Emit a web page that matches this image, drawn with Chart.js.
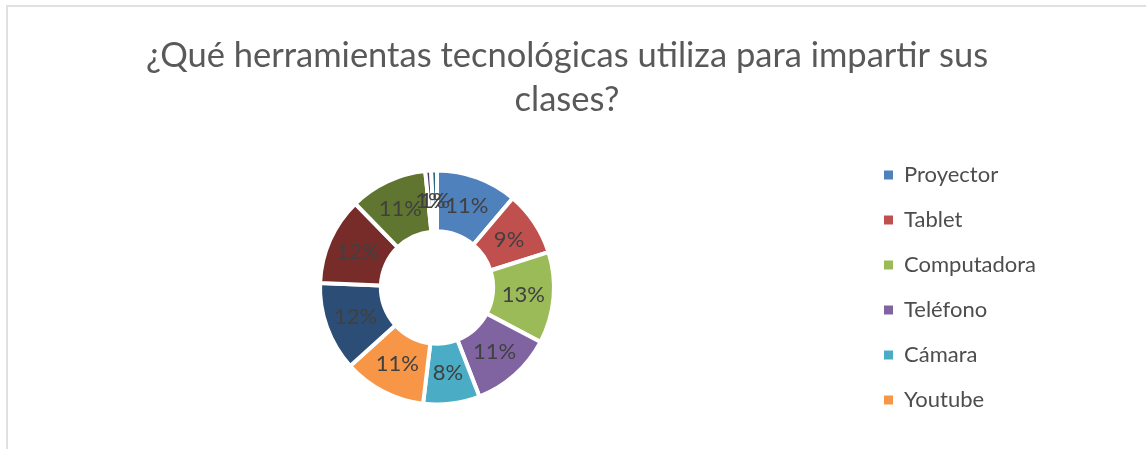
<!DOCTYPE html>
<html>
<head>
<meta charset="utf-8">
<script src="https://cdn.jsdelivr.net/npm/chart.js@4/dist/chart.umd.min.js"></script>
<style>
  body { margin: 0; overflow: hidden; background: #fff; }
  #frame { position: absolute; left: 6px; top: 5px; width: 1300px; height: 600px;
           border-left: 2px solid #e0e0e0; border-top: 2px solid #e0e0e0; }
  #myChart_donut { position: absolute; left: 0; top: 0; }
</style>
</head>
<body>
<div id="frame"></div>
<canvas id="myChart_donut" width="1121" height="453"></canvas>
<script>
const titleLines = ['¿Qué herramientas tecnológicas utiliza para impartir sus', 'clases?'];
const categories = ['Proyector', 'Tablet', 'Computadora', 'Teléfono', 'Cámara', 'Youtube', '7', '8', '9', '10', '11'];
const shares = [11.2, 8.9, 12.6, 11.4, 7.8, 11.4, 12.3, 12.1, 10.7, 0.8, 0.8];
const sliceColors = ['#4F81BD', '#C0504D', '#9BBB59', '#8064A2', '#4BACC6', '#F79646',
                     '#2C4D75', '#772C2A', '#5F7530', '#4D3B62', '#276A7C'];
const shownInLegend = 6; // the legend only fits the first six entries

// widen the legend box so the doughnut and the title sit where they should
const legendWidth = {
  id: 'legendWidth',
  beforeInit(chart) {
    const fitValue = chart.legend.fit;
    chart.legend.fit = function fit() {
      fitValue.bind(chart.legend)();
      this.width = 260;
    };
  }
};

// percentage labels in the middle of each slice
const sliceLabels = {
  id: 'sliceLabels',
  afterDatasetsDraw(chart) {
    const ctx = chart.ctx;
    const meta = chart.getDatasetMeta(0);
    const total = shares.reduce((a, b) => a + b, 0);
    ctx.save();
    ctx.font = '22px Lato';
    ctx.fillStyle = '#404040';
    ctx.textAlign = 'center';
    ctx.textBaseline = 'middle';
    meta.data.forEach((arc, i) => {
      const p = arc.tooltipPosition();
      ctx.fillText(Math.round(shares[i] / total * 100) + '%', p.x, p.y);
    });
    ctx.restore();
  }
};

const defaultLabels = Chart.overrides.doughnut.plugins.legend.labels.generateLabels;

const ctx = document.getElementById('myChart_donut').getContext('2d');
new Chart(ctx, {
  type: 'doughnut',
  data: {
    labels: categories,
    datasets: [{
      data: shares,
      backgroundColor: sliceColors,
      borderColor: '#ffffff',
      borderWidth: 4,
      radius: 117,
      cutout: '48%',
    }],
  },
  options: {
    responsive: false,
    animation: false,
    layout: { padding: { left: 13, right: 0, top: 0, bottom: 0 } },
    plugins: {
      title: {
        display: true,
        text: titleLines,
        color: '#595959',
        font: { family: 'Lato', size: 34.5, weight: 'normal', lineHeight: 44 / 34.5 },
        padding: { top: 34, bottom: 0 },
      },
      legend: {
        position: 'right',
        fullSize: false,
        labels: {
          boxWidth: 9,
          boxHeight: 9,
          padding: 23,
          color: '#4d4d4d',
          font: { family: 'Lato', size: 22 },
          generateLabels: (chart) => defaultLabels(chart).map((item) => ({ ...item, lineWidth: 0 })),
          filter: (item) => item.index < shownInLegend,
        },
      },
      tooltip: { enabled: false },
    },
  },
  plugins: [legendWidth, sliceLabels],
});
</script>
</body>
</html>
